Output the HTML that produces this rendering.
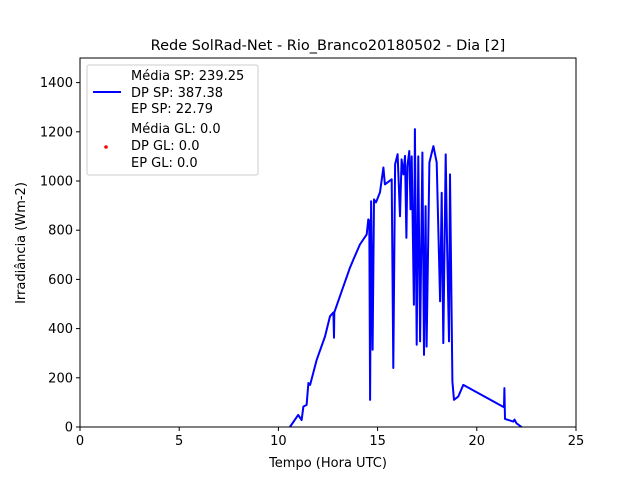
<!DOCTYPE html>
<html><head><meta charset="utf-8"><style>
body{margin:0;background:#fff;}
svg text{font-family:"DejaVu Sans","Liberation Sans",sans-serif;fill:#000;}
</style></head><body>
<svg id="chart" width="640" height="480" xmlns="http://www.w3.org/2000/svg">
<rect width="640" height="480" fill="#fff"/>
<text x="328" y="50" font-size="14.5" text-anchor="middle">Rede SolRad-Net - Rio_Branco20180502 - Dia [2]</text>
<g id="ticks"></g>
<path id="series" fill="none" stroke="#0000ff" stroke-width="2" stroke-linejoin="round"/>
<rect x="80" y="58" width="496" height="369" fill="none" stroke="#000" stroke-width="1"/>
<text x="328" y="467" font-size="13" text-anchor="middle">Tempo (Hora UTC)</text>
<text transform="translate(25,243) rotate(-90)" font-size="13" text-anchor="middle">Irradiância (Wm-2)</text>
<g>
<rect x="87" y="65" width="171" height="110" rx="2" fill="#fff" fill-opacity="0.8" stroke="#ccc"/>
<line x1="93" y1="92" x2="121" y2="92" stroke="#0000ff" stroke-width="2"/>
<circle cx="106" cy="147" r="1.8" fill="#ff0000"/>
<text font-size="13" x="131" y="80">Média SP: 239.25</text>
<text font-size="13" x="131" y="97">DP SP: 387.38</text>
<text font-size="13" x="131" y="113">EP SP: 22.79</text>
<text font-size="13" x="131" y="133">Média GL: 0.0</text>
<text font-size="13" x="131" y="150">DP GL: 0.0</text>
<text font-size="13" x="131" y="167">EP GL: 0.0</text>
</g>
</svg>
<script>
const xTicks=[0,5,10,15,20,25];
const yTicks=[0,200,400,600,800,1000,1200,1400];
const hours=[10.58,11.0,11.17,11.26,11.42,11.51,11.6,11.93,12.35,12.6,12.77,12.8,12.82,13.19,13.61,13.78,14.11,14.45,14.53,14.58,14.62,14.67,14.75,14.82,14.92,15.12,15.29,15.37,15.71,15.79,15.88,16.01,16.13,16.21,16.3,16.38,16.45,16.5,16.6,16.66,16.72,16.83,16.88,16.97,17.05,17.14,17.26,17.34,17.42,17.47,17.61,17.69,17.81,17.98,18.15,18.23,18.31,18.43,18.5,18.6,18.65,18.77,18.85,19.07,19.32,21.37,21.39,21.42,21.84,21.9,22.0,22.26];
const irradiance=[0,49,28,83,90,179,171,273,368,450,466,363,466,552,648,681,742,783,844,840,110,918,314,925,913,954,1055,986,1007,240,1068,1109,857,1088,1027,1102,769,1060,1122,885,1100,497,1211,334,1100,348,1116,293,898,327,1075,1102,1142,1075,511,952,341,1108,760,348,1027,185,110,124,171,80,158,33,22,30,15,0];
const X0=80,X1=576,Y0=427,Y1=58,XMAX=25,YMAX=1500;
const sx=h=>X0+h/XMAX*(X1-X0);
const sy=v=>Y0-v/YMAX*(Y0-Y1);
const NS="http://www.w3.org/2000/svg";
const g=document.getElementById('ticks');
function mk(t,a){const e=document.createElementNS(NS,t);for(const k in a)e.setAttribute(k,a[k]);g.appendChild(e);return e;}
xTicks.forEach(t=>{
  const l=mk('line',{x1:sx(t),x2:sx(t),y1:Y0,y2:Y0+4,stroke:'#000'});
  
  
  const tx=mk('text',{x:sx(t),y:Y0+18,'font-size':13,'text-anchor':'middle'});
  tx.textContent=t;
  
  
});
yTicks.forEach(t=>{
  const l=mk('line',{x1:X0-4,x2:X0,y1:sy(t),y2:sy(t),stroke:'#000'});
  
  
  const tx=mk('text',{x:X0-7,y:sy(t)+4.5,'font-size':13,'text-anchor':'end'});
  tx.textContent=t;
  
  
});
document.getElementById('series').setAttribute('d',hours.map((h,i)=>(i?'L':'M')+sx(h).toFixed(1)+','+sy(irradiance[i]).toFixed(1)).join(''));
</script>
</body></html>
